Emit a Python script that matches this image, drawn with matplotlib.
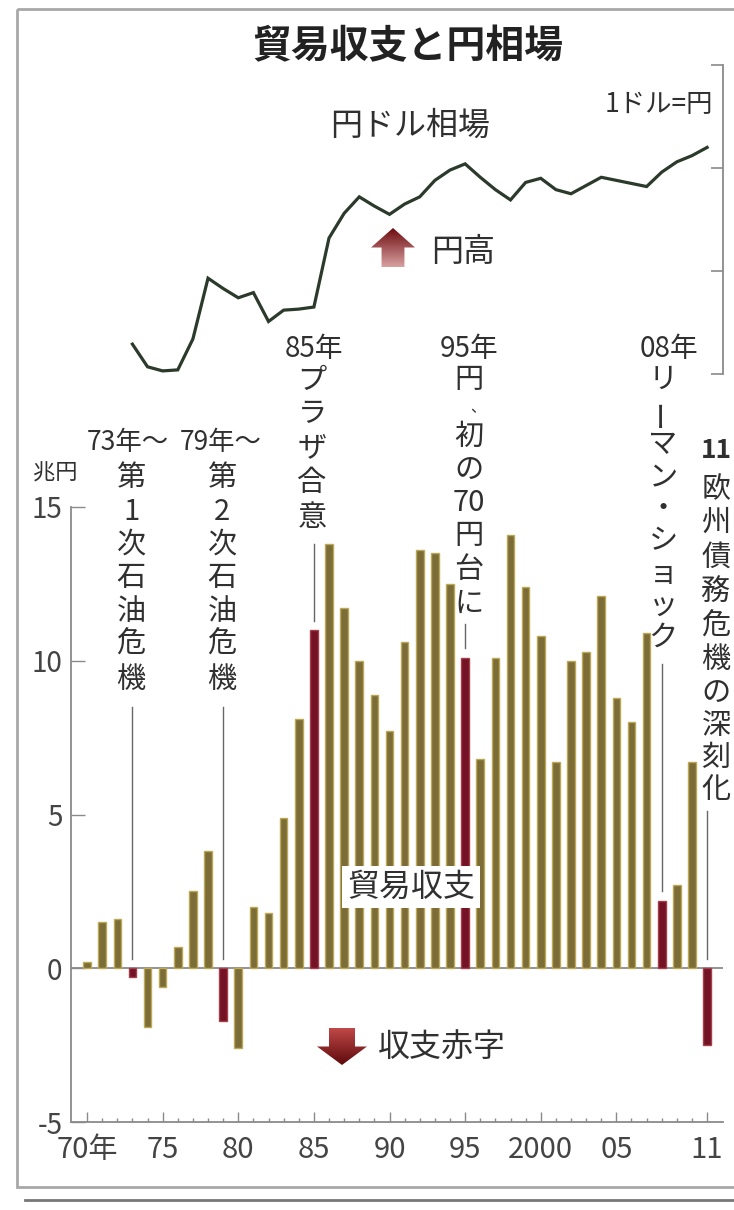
import numpy as np
import matplotlib
matplotlib.use('Agg')
import matplotlib.pyplot as plt
from matplotlib.patches import Polygon, Rectangle
from matplotlib.colors import LinearSegmentedColormap

plt.rcParams['font.family'] = ['Noto Sans CJK JP', 'DejaVu Sans']

# trade balance, trillion yen per year
years = list(range(1970, 2012))
trade_balance = [0.2, 1.5, 1.6, -0.3, -1.9, -0.6, 0.7, 2.5, 3.8, -1.7,
                 -2.6, 2.0, 1.8, 4.9, 8.1, 11.0, 13.8, 11.7, 10.0, 8.9,
                 7.7, 10.6, 13.6, 13.5, 12.5, 10.1, 6.8, 10.1, 14.1, 12.4,
                 10.8, 6.7, 10.0, 10.3, 12.1, 8.8, 8.0, 10.9, 2.2, 2.7,
                 6.7, -2.5]

# yen per dollar, yearly
fx_years = list(range(1973, 2012))
yen_per_dollar = [271, 293, 297, 296, 266, 207, 217, 226, 221, 249,
                  238, 237, 235, 168, 144, 128, 137, 145, 135, 128,
                  112, 102, 96, 109, 121, 131, 114, 110, 121, 125,
                  117, 109, 112, 115, 118, 104, 94, 88, 80]

event_years = [1973, 1979, 1985, 1995, 2008, 2011]
tick_years = [1970, 1975, 1980, 1985, 1990, 1995, 2000, 2005, 2011]
tick_labels = ['70年', '75', '80', '85', '90', '95', '2000', '05', '11']

W, H = 734, 1210
fig = plt.figure(figsize=(W / 100, H / 100), dpi=100)


def box(x0, y0, x1, y1):
    return [x0 / W, 1 - y1 / H, (x1 - x0) / W, (y1 - y0) / H]


GRAY = '#8a8a8a'
TXT = '#303030'
OLIVE, OLIVE_EDGE = '#7c6d38', '#bba955'
RED, RED_EDGE = '#741226', '#a3404c'

# --- trade balance bars ---
ax = fig.add_axes(box(70.7, 507, 723, 1122))
colors = [RED if y in event_years else OLIVE for y in years]
edges = [RED_EDGE if y in event_years else OLIVE_EDGE for y in years]
ax.bar(years, trade_balance, width=0.5, color=colors, edgecolor=edges,
       linewidth=1.0, zorder=2)
ax.axhline(0, color=GRAY, lw=1.3, zorder=1)
ax.set_xlim(1968.92, 2012.05)
ax.set_ylim(-5, 15)
for s in ['top', 'right']:
    ax.spines[s].set_visible(False)
for s in ['left', 'bottom']:
    ax.spines[s].set_color(GRAY)
    ax.spines[s].set_linewidth(1.3)
ax.set_xticks(tick_years)
ax.set_xticklabels(tick_labels)
ax.set_xticks(years, minor=True)
ax.tick_params(axis='x', which='major', direction='in', length=7, width=1,
               color=GRAY, pad=9, labelsize=21, labelcolor='#444444')
ax.tick_params(axis='x', which='minor', direction='in', length=3, width=1,
               color=GRAY)
ax.set_yticks([-5, 0, 5, 10, 15])
ax.set_yticklabels(['-5', '0', '5', '10', '15'])
ax.tick_params(axis='y', direction='in', length=10, width=1, color=GRAY,
               pad=6, labelsize=20, labelcolor='#444444')

# connector lines from the event notes down to the bars
note_tops = {1973: 8.5, 1979: 8.5, 1985: 13.8, 1995: 11.2, 2008: 9.9, 2011: 5.1}
for yr, top in note_tops.items():
    v = trade_balance[years.index(yr)]
    ax.plot([yr, yr], [top, max(v, 0) + 0.3], color='#666666', lw=1.0,
            zorder=3, clip_on=False)

# --- yen/dollar line ---
ax_fx = fig.add_axes(box(70.7, 65, 723, 374))
ax_fx.plot(fx_years, yen_per_dollar, color='#2b3a2b', lw=2.3,
           solid_joinstyle='miter')
ax_fx.set_xlim(1968.92, 2012.05)
ax_fx.set_ylim(300, 0)
ax_fx.patch.set_visible(False)
for s in ['top', 'left', 'bottom']:
    ax_fx.spines[s].set_visible(False)
ax_fx.spines['right'].set_color(GRAY)
ax_fx.spines['right'].set_linewidth(1.3)
ax_fx.set_xticks([])
ax_fx.yaxis.tick_right()
ax_fx.set_yticks([0, 100, 200, 300])
ax_fx.set_yticklabels([])
ax_fx.tick_params(axis='y', direction='in', length=9, width=1.2, color=GRAY)

# --- overlay in pixel coordinates for frame, notes and arrows ---
ov = fig.add_axes([0, 0, 1, 1])
ov.axis('off')
ov.set_autoscale_on(False)
ov.set_xlim(0, W)
ov.set_ylim(H, 0)

ov.add_patch(Rectangle((17, 9), 760, 1178, fill=False, edgecolor='#a8a8a8',
                       lw=2, clip_on=False))
ov.plot([25, W], [1200, 1200], color='#777777', lw=2)

ov.text(408, 47, '貿易収支と円相場', ha='center', va='center', fontsize=28,
        fontweight='bold', color='#222222')
ov.text(410, 126, '円ドル相場', ha='center', va='center', fontsize=23, color=TXT)
ov.text(713, 105, '1ドル=円', ha='right', va='center', fontsize=19, color=TXT)
ov.text(431, 252, '円高', ha='left', va='center', fontsize=23, color=TXT)
ov.text(378, 1048, '収支赤字', ha='left', va='center', fontsize=23, color=TXT)
ov.text(411, 887, '貿易収支', ha='center', va='center', fontsize=23, color=TXT,
        bbox=dict(facecolor='white', edgecolor='none', pad=4))
ov.text(55, 473, '兆円', ha='center', va='center', fontsize=16, color=TXT)

ov.text(128, 442, '73年〜', ha='center', va='center', fontsize=19, color=TXT)
ov.text(221, 442, '79年〜', ha='center', va='center', fontsize=19, color=TXT)
ov.text(314, 349, '85年', ha='center', va='center', fontsize=20, color=TXT)
ov.text(469, 349, '95年', ha='center', va='center', fontsize=20, color=TXT)
ov.text(669, 349, '08年', ha='center', va='center', fontsize=20, color=TXT)
ov.text(716, 451, '11', ha='center', va='center', fontsize=19, color=TXT,
        fontweight='bold')


def vertical(x, ys, chars, size=21):
    for y, ch in zip(ys, chars):
        if ch == '、':
            ov.text(x + 9, y, ch, ha='center', va='center', fontsize=11,
                    color=TXT)
            continue
        rot = 90 if ch == 'ー' else 0
        ov.text(x, y, ch, ha='center', va='center', fontsize=size,
                rotation=rot, color=TXT)


oil_y = [478, 512, 545, 578, 612, 645, 680]
vertical(131, oil_y, ['第', '1', '次', '石', '油', '危', '機'])
vertical(222, oil_y, ['第', '2', '次', '石', '油', '危', '機'])
vertical(312, [381, 414, 448, 483, 518], ['プ', 'ラ', 'ザ', '合', '意'])
vertical(469, [380, 408, 437, 471, 503, 536, 570, 604],
         ['円', '、', '初', 'の', '70', '円', '台', 'に'])
vertical(663, [380, 412, 445, 477, 509, 541, 574, 606, 638],
         ['リ', 'ー', 'マ', 'ン', '・', 'シ', 'ョ', 'ッ', 'ク'])
vertical(716, [490, 523, 558, 593, 627, 660, 694, 726, 758, 790],
         ['欧', '州', '債', '務', '危', '機', 'の', '深', '刻', '化'])


def grad_arrow(xc, y_tip, y_tail, width, c_tip, c_tail):
    half = width / 2
    shaft = width * 0.26
    head = y_tip + (y_tail - y_tip) * 0.5
    pts = [(xc, y_tip), (xc + half, head), (xc + shaft, head),
           (xc + shaft, y_tail), (xc - shaft, y_tail), (xc - shaft, head),
           (xc - half, head)]
    poly = Polygon(pts, closed=True, facecolor='none', edgecolor='none')
    ov.add_patch(poly)
    top, bot = min(y_tip, y_tail), max(y_tip, y_tail)
    if y_tip < y_tail:
        cmap = LinearSegmentedColormap.from_list('a', [c_tip, c_tail])
    else:
        cmap = LinearSegmentedColormap.from_list('a', [c_tail, c_tip])
    im = ov.imshow(np.linspace(0, 1, 64).reshape(-1, 1), cmap=cmap,
                   extent=(xc - half, xc + half, bot, top), aspect='auto',
                   interpolation='bilinear')
    im.set_clip_path(poly)


grad_arrow(393, 228, 267, 44, '#6e0c10', '#d8a0a0')
grad_arrow(342, 1065, 1028, 50, '#5e0a0c', '#c04848')
ov.set_xlim(0, W)
ov.set_ylim(H, 0)

fig.savefig('out.png', dpi=100)
